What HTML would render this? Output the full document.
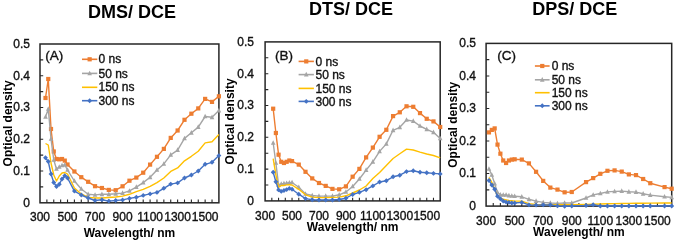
<!DOCTYPE html><html><head><meta charset="utf-8"><style>html,body{margin:0;padding:0;background:#fff;width:676px;height:242px;overflow:hidden}svg{display:block;will-change:transform}text{font-family:"Liberation Sans",sans-serif}.r{stroke:#111;stroke-width:0.35px}</style></head><body>
<svg width="676" height="242" viewBox="0 0 676 242">
<rect width="676" height="242" fill="#fff"/>
<rect x="40" y="44" width="178.9" height="158.8" fill="none" stroke="#262626" stroke-width="1.5"/>
<path d="M46.88 202.8V199.6M53.76 202.8V199.6M60.64 202.8V199.6M67.52 202.8V199.6M74.4 202.8V199.6M81.28 202.8V199.6M88.17 202.8V199.6M95.05 202.8V199.6M101.93 202.8V199.6M108.81 202.8V199.6M115.69 202.8V199.6M122.57 202.8V199.6M129.45 202.8V199.6M136.33 202.8V199.6M143.21 202.8V199.6M150.09 202.8V199.6M156.97 202.8V199.6M163.85 202.8V199.6M170.73 202.8V199.6M177.62 202.8V199.6M184.5 202.8V199.6M191.38 202.8V199.6M198.26 202.8V199.6M205.14 202.8V199.6M212.02 202.8V199.6M40 186.92H43.2M40 171.04H43.2M40 155.16H43.2M40 139.28H43.2M40 123.4H43.2M40 107.52H43.2M40 91.64H43.2M40 75.76H43.2M40 59.88H43.2" stroke="#262626" stroke-width="1.1" fill="none"/>
<polyline points="45.5,98 48.26,79 51.01,129 53.76,151.5 56.51,159 59.27,159.3 62.02,159 64.77,160.6 67.52,164.5 74.4,171.5 81.28,177.2 88.17,181.8 95.05,186.2 101.93,188 108.81,189.9 115.69,190.2 122.57,186.3 129.45,180.7 136.33,177.6 143.21,172.7 150.09,164.6 156.97,156.8 163.85,148.9 170.73,137.9 177.62,130.5 184.5,119.8 191.38,113.7 198.26,108.4 205.14,98.9 212.02,101.9 218.9,96.3" fill="none" stroke="#ED7D31" stroke-width="1.4" stroke-linejoin="round"/>
<rect x="43.4" y="95.9" width="4.2" height="4.2" fill="#ED7D31"/>
<rect x="46.16" y="76.9" width="4.2" height="4.2" fill="#ED7D31"/>
<rect x="48.91" y="126.9" width="4.2" height="4.2" fill="#ED7D31"/>
<rect x="51.66" y="149.4" width="4.2" height="4.2" fill="#ED7D31"/>
<rect x="54.41" y="156.9" width="4.2" height="4.2" fill="#ED7D31"/>
<rect x="57.17" y="157.2" width="4.2" height="4.2" fill="#ED7D31"/>
<rect x="59.92" y="156.9" width="4.2" height="4.2" fill="#ED7D31"/>
<rect x="62.67" y="158.5" width="4.2" height="4.2" fill="#ED7D31"/>
<rect x="65.42" y="162.4" width="4.2" height="4.2" fill="#ED7D31"/>
<rect x="72.3" y="169.4" width="4.2" height="4.2" fill="#ED7D31"/>
<rect x="79.18" y="175.1" width="4.2" height="4.2" fill="#ED7D31"/>
<rect x="86.07" y="179.7" width="4.2" height="4.2" fill="#ED7D31"/>
<rect x="92.95" y="184.1" width="4.2" height="4.2" fill="#ED7D31"/>
<rect x="99.83" y="185.9" width="4.2" height="4.2" fill="#ED7D31"/>
<rect x="106.71" y="187.8" width="4.2" height="4.2" fill="#ED7D31"/>
<rect x="113.59" y="188.1" width="4.2" height="4.2" fill="#ED7D31"/>
<rect x="120.47" y="184.2" width="4.2" height="4.2" fill="#ED7D31"/>
<rect x="127.35" y="178.6" width="4.2" height="4.2" fill="#ED7D31"/>
<rect x="134.23" y="175.5" width="4.2" height="4.2" fill="#ED7D31"/>
<rect x="141.11" y="170.6" width="4.2" height="4.2" fill="#ED7D31"/>
<rect x="147.99" y="162.5" width="4.2" height="4.2" fill="#ED7D31"/>
<rect x="154.87" y="154.7" width="4.2" height="4.2" fill="#ED7D31"/>
<rect x="161.75" y="146.8" width="4.2" height="4.2" fill="#ED7D31"/>
<rect x="168.63" y="135.8" width="4.2" height="4.2" fill="#ED7D31"/>
<rect x="175.52" y="128.4" width="4.2" height="4.2" fill="#ED7D31"/>
<rect x="182.4" y="117.7" width="4.2" height="4.2" fill="#ED7D31"/>
<rect x="189.28" y="111.6" width="4.2" height="4.2" fill="#ED7D31"/>
<rect x="196.16" y="106.3" width="4.2" height="4.2" fill="#ED7D31"/>
<rect x="203.04" y="96.8" width="4.2" height="4.2" fill="#ED7D31"/>
<rect x="209.92" y="99.8" width="4.2" height="4.2" fill="#ED7D31"/>
<rect x="216.8" y="94.2" width="4.2" height="4.2" fill="#ED7D31"/>
<polyline points="45.5,117 48.26,109 51.01,139 53.76,160 56.51,169 59.27,167 62.02,165.5 64.77,165 67.52,170 74.4,181 81.28,189 88.17,194.3 95.05,194.9 101.93,194.3 108.81,194.3 115.69,193.8 122.57,193.1 129.45,190.9 136.33,187.1 143.21,182.6 150.09,177.3 156.97,170 163.85,163.9 170.73,154.8 177.62,150.1 184.5,138.4 191.38,132.8 198.26,127.1 205.14,116.5 212.02,117.3 218.9,110.6" fill="none" stroke="#A5A5A5" stroke-width="1.4" stroke-linejoin="round"/>
<path d="M45.5 114.24L47.8 118.84L43.2 118.84Z" fill="#A5A5A5"/>
<path d="M48.26 106.24L50.56 110.84L45.96 110.84Z" fill="#A5A5A5"/>
<path d="M51.01 136.24L53.31 140.84L48.71 140.84Z" fill="#A5A5A5"/>
<path d="M53.76 157.24L56.06 161.84L51.46 161.84Z" fill="#A5A5A5"/>
<path d="M56.51 166.24L58.81 170.84L54.21 170.84Z" fill="#A5A5A5"/>
<path d="M59.27 164.24L61.57 168.84L56.97 168.84Z" fill="#A5A5A5"/>
<path d="M62.02 162.74L64.32 167.34L59.72 167.34Z" fill="#A5A5A5"/>
<path d="M64.77 162.24L67.07 166.84L62.47 166.84Z" fill="#A5A5A5"/>
<path d="M67.52 167.24L69.82 171.84L65.22 171.84Z" fill="#A5A5A5"/>
<path d="M74.4 178.24L76.7 182.84L72.1 182.84Z" fill="#A5A5A5"/>
<path d="M81.28 186.24L83.58 190.84L78.98 190.84Z" fill="#A5A5A5"/>
<path d="M88.17 191.54L90.47 196.14L85.87 196.14Z" fill="#A5A5A5"/>
<path d="M95.05 192.14L97.35 196.74L92.75 196.74Z" fill="#A5A5A5"/>
<path d="M101.93 191.54L104.23 196.14L99.63 196.14Z" fill="#A5A5A5"/>
<path d="M108.81 191.54L111.11 196.14L106.51 196.14Z" fill="#A5A5A5"/>
<path d="M115.69 191.04L117.99 195.64L113.39 195.64Z" fill="#A5A5A5"/>
<path d="M122.57 190.34L124.87 194.94L120.27 194.94Z" fill="#A5A5A5"/>
<path d="M129.45 188.14L131.75 192.74L127.15 192.74Z" fill="#A5A5A5"/>
<path d="M136.33 184.34L138.63 188.94L134.03 188.94Z" fill="#A5A5A5"/>
<path d="M143.21 179.84L145.51 184.44L140.91 184.44Z" fill="#A5A5A5"/>
<path d="M150.09 174.54L152.39 179.14L147.79 179.14Z" fill="#A5A5A5"/>
<path d="M156.97 167.24L159.27 171.84L154.67 171.84Z" fill="#A5A5A5"/>
<path d="M163.85 161.14L166.15 165.74L161.55 165.74Z" fill="#A5A5A5"/>
<path d="M170.73 152.04L173.03 156.64L168.43 156.64Z" fill="#A5A5A5"/>
<path d="M177.62 147.34L179.92 151.94L175.32 151.94Z" fill="#A5A5A5"/>
<path d="M184.5 135.64L186.8 140.24L182.2 140.24Z" fill="#A5A5A5"/>
<path d="M191.38 130.04L193.68 134.64L189.08 134.64Z" fill="#A5A5A5"/>
<path d="M198.26 124.34L200.56 128.94L195.96 128.94Z" fill="#A5A5A5"/>
<path d="M205.14 113.74L207.44 118.34L202.84 118.34Z" fill="#A5A5A5"/>
<path d="M212.02 114.54L214.32 119.14L209.72 119.14Z" fill="#A5A5A5"/>
<path d="M218.9 107.84L221.2 112.44L216.6 112.44Z" fill="#A5A5A5"/>
<polyline points="45.5,143.5 48.26,145 51.01,163 53.76,175 56.51,181 59.27,176 62.02,173 64.77,172.5 67.52,174 74.4,188 81.28,194 88.17,197.4 95.05,198 101.93,198 108.81,197.5 115.69,197 122.57,196.1 129.45,194.3 136.33,191.6 143.21,189.3 150.09,186.3 156.97,182.6 163.85,178 170.73,171.4 177.62,167.9 184.5,160.8 191.38,156.3 198.26,151.3 205.14,142.9 212.02,141.8 218.9,134.6" fill="none" stroke="#FFC000" stroke-width="1.4" stroke-linejoin="round"/>
<polyline points="45.5,157.8 48.26,161.5 51.01,174 53.76,182.5 56.51,186.5 59.27,184.3 62.02,179 64.77,175.8 67.52,178 74.4,191.1 81.28,195 88.17,198 95.05,200.5 101.93,199.8 108.81,201.1 115.69,200.5 122.57,199.9 129.45,198.4 136.33,197.3 143.21,195.4 150.09,193.9 156.97,192.4 163.85,188.3 170.73,184.1 177.62,182.9 184.5,178 191.38,175 198.26,171 205.14,164.3 212.02,162.3 218.9,155.6" fill="none" stroke="#4472C4" stroke-width="1.4" stroke-linejoin="round"/>
<path d="M45.5 155.35L47.95 157.8L45.5 160.25L43.05 157.8Z" fill="#4472C4"/>
<path d="M48.26 159.05L50.71 161.5L48.26 163.95L45.81 161.5Z" fill="#4472C4"/>
<path d="M51.01 171.55L53.46 174L51.01 176.45L48.56 174Z" fill="#4472C4"/>
<path d="M53.76 180.05L56.21 182.5L53.76 184.95L51.31 182.5Z" fill="#4472C4"/>
<path d="M56.51 184.05L58.96 186.5L56.51 188.95L54.06 186.5Z" fill="#4472C4"/>
<path d="M59.27 181.85L61.72 184.3L59.27 186.75L56.82 184.3Z" fill="#4472C4"/>
<path d="M62.02 176.55L64.47 179L62.02 181.45L59.57 179Z" fill="#4472C4"/>
<path d="M64.77 173.35L67.22 175.8L64.77 178.25L62.32 175.8Z" fill="#4472C4"/>
<path d="M67.52 175.55L69.97 178L67.52 180.45L65.07 178Z" fill="#4472C4"/>
<path d="M74.4 188.65L76.85 191.1L74.4 193.55L71.95 191.1Z" fill="#4472C4"/>
<path d="M81.28 192.55L83.73 195L81.28 197.45L78.83 195Z" fill="#4472C4"/>
<path d="M88.17 195.55L90.62 198L88.17 200.45L85.72 198Z" fill="#4472C4"/>
<path d="M95.05 198.05L97.5 200.5L95.05 202.95L92.6 200.5Z" fill="#4472C4"/>
<path d="M101.93 197.35L104.38 199.8L101.93 202.25L99.48 199.8Z" fill="#4472C4"/>
<path d="M108.81 198.65L111.26 201.1L108.81 203.55L106.36 201.1Z" fill="#4472C4"/>
<path d="M115.69 198.05L118.14 200.5L115.69 202.95L113.24 200.5Z" fill="#4472C4"/>
<path d="M122.57 197.45L125.02 199.9L122.57 202.35L120.12 199.9Z" fill="#4472C4"/>
<path d="M129.45 195.95L131.9 198.4L129.45 200.85L127 198.4Z" fill="#4472C4"/>
<path d="M136.33 194.85L138.78 197.3L136.33 199.75L133.88 197.3Z" fill="#4472C4"/>
<path d="M143.21 192.95L145.66 195.4L143.21 197.85L140.76 195.4Z" fill="#4472C4"/>
<path d="M150.09 191.45L152.54 193.9L150.09 196.35L147.64 193.9Z" fill="#4472C4"/>
<path d="M156.97 189.95L159.42 192.4L156.97 194.85L154.52 192.4Z" fill="#4472C4"/>
<path d="M163.85 185.85L166.3 188.3L163.85 190.75L161.4 188.3Z" fill="#4472C4"/>
<path d="M170.73 181.65L173.18 184.1L170.73 186.55L168.28 184.1Z" fill="#4472C4"/>
<path d="M177.62 180.45L180.07 182.9L177.62 185.35L175.17 182.9Z" fill="#4472C4"/>
<path d="M184.5 175.55L186.95 178L184.5 180.45L182.05 178Z" fill="#4472C4"/>
<path d="M191.38 172.55L193.83 175L191.38 177.45L188.93 175Z" fill="#4472C4"/>
<path d="M198.26 168.55L200.71 171L198.26 173.45L195.81 171Z" fill="#4472C4"/>
<path d="M205.14 161.85L207.59 164.3L205.14 166.75L202.69 164.3Z" fill="#4472C4"/>
<path d="M212.02 159.85L214.47 162.3L212.02 164.75L209.57 162.3Z" fill="#4472C4"/>
<path d="M218.9 153.15L221.35 155.6L218.9 158.05L216.45 155.6Z" fill="#4472C4"/>
<text x="40" y="221.3" font-size="12" text-anchor="middle" fill="#111" class="r">300</text>
<text x="67.52" y="221.3" font-size="12" text-anchor="middle" fill="#111" class="r">500</text>
<text x="95.05" y="221.3" font-size="12" text-anchor="middle" fill="#111" class="r">700</text>
<text x="122.57" y="221.3" font-size="12" text-anchor="middle" fill="#111" class="r">900</text>
<text x="150.09" y="221.3" font-size="12" text-anchor="middle" fill="#111" class="r">1100</text>
<text x="177.62" y="221.3" font-size="12" text-anchor="middle" fill="#111" class="r">1300</text>
<text x="205.14" y="221.3" font-size="12" text-anchor="middle" fill="#111" class="r">1500</text>
<text x="29.9" y="206.7" font-size="12" text-anchor="end" fill="#111" class="r">0</text>
<text x="29.9" y="174.94" font-size="12" text-anchor="end" fill="#111" class="r">0.1</text>
<text x="29.9" y="143.18" font-size="12" text-anchor="end" fill="#111" class="r">0.2</text>
<text x="29.9" y="111.42" font-size="12" text-anchor="end" fill="#111" class="r">0.3</text>
<text x="29.9" y="79.66" font-size="12" text-anchor="end" fill="#111" class="r">0.4</text>
<text x="29.9" y="47.9" font-size="12" text-anchor="end" fill="#111" class="r">0.5</text>
<text x="131.9" y="18" font-size="18" font-weight="bold" text-anchor="middle" fill="#000">DMS/ DCE</text>
<text x="129.45" y="237.1" font-size="12" font-weight="bold" text-anchor="middle" fill="#000">Wavelength/ nm</text>
<text x="0" y="0" font-size="12" font-weight="bold" text-anchor="middle" fill="#000" transform="translate(12.3 123.4) rotate(-90)">Optical density</text>
<text x="45.3" y="59.8" font-size="13.5" fill="#111" class="r">(A)</text>
<path d="M82 59.3H97.3" stroke="#ED7D31" stroke-width="1.6"/>
<rect x="87.55" y="57.2" width="4.2" height="4.2" fill="#ED7D31"/>
<text x="98.5" y="63.4" font-size="12" fill="#111" class="r">0 ns</text>
<path d="M82 73.4H97.3" stroke="#A5A5A5" stroke-width="1.6"/>
<path d="M89.65 70.64L91.95 75.24L87.35 75.24Z" fill="#A5A5A5"/>
<text x="98.5" y="77.5" font-size="12" fill="#111" class="r">50 ns</text>
<path d="M82 87.3H97.3" stroke="#FFC000" stroke-width="1.6"/>
<text x="98.5" y="91.4" font-size="12" fill="#111" class="r">150 ns</text>
<path d="M82 100.7H97.3" stroke="#4472C4" stroke-width="1.6"/>
<path d="M89.65 98.25L92.1 100.7L89.65 103.15L87.2 100.7Z" fill="#4472C4"/>
<text x="98.5" y="104.8" font-size="12" fill="#111" class="r">300 ns</text>
<rect x="265.1" y="41.9" width="175.1" height="159" fill="none" stroke="#262626" stroke-width="1.5"/>
<path d="M271.83 200.9V197.7M278.57 200.9V197.7M285.3 200.9V197.7M292.04 200.9V197.7M298.77 200.9V197.7M305.51 200.9V197.7M312.24 200.9V197.7M318.98 200.9V197.7M325.71 200.9V197.7M332.45 200.9V197.7M339.18 200.9V197.7M345.92 200.9V197.7M352.65 200.9V197.7M359.38 200.9V197.7M366.12 200.9V197.7M372.85 200.9V197.7M379.59 200.9V197.7M386.32 200.9V197.7M393.06 200.9V197.7M399.79 200.9V197.7M406.53 200.9V197.7M413.26 200.9V197.7M420 200.9V197.7M426.73 200.9V197.7M433.47 200.9V197.7M265.1 185H268.3M265.1 169.1H268.3M265.1 153.2H268.3M265.1 137.3H268.3M265.1 121.4H268.3M265.1 105.5H268.3M265.1 89.6H268.3M265.1 73.7H268.3M265.1 57.8H268.3" stroke="#262626" stroke-width="1.1" fill="none"/>
<polyline points="273.18,108.7 275.88,133 278.57,154.7 281.26,161.8 283.96,163 286.65,161.8 289.34,160.5 292.04,161.1 298.77,164.6 305.51,171.8 312.24,178.4 318.98,183 325.71,185.9 332.45,188.9 339.18,189.3 345.92,186.4 352.65,176.7 359.38,168.9 366.12,157.4 372.85,147.6 379.59,136.8 386.32,129.8 393.06,116.1 399.79,112.3 406.53,106.3 413.26,106.8 420,113.1 426.73,118.8 433.47,121.4 440.2,127" fill="none" stroke="#ED7D31" stroke-width="1.4" stroke-linejoin="round"/>
<rect x="271.08" y="106.6" width="4.2" height="4.2" fill="#ED7D31"/>
<rect x="273.78" y="130.9" width="4.2" height="4.2" fill="#ED7D31"/>
<rect x="276.47" y="152.6" width="4.2" height="4.2" fill="#ED7D31"/>
<rect x="279.16" y="159.7" width="4.2" height="4.2" fill="#ED7D31"/>
<rect x="281.86" y="160.9" width="4.2" height="4.2" fill="#ED7D31"/>
<rect x="284.55" y="159.7" width="4.2" height="4.2" fill="#ED7D31"/>
<rect x="287.24" y="158.4" width="4.2" height="4.2" fill="#ED7D31"/>
<rect x="289.94" y="159" width="4.2" height="4.2" fill="#ED7D31"/>
<rect x="296.67" y="162.5" width="4.2" height="4.2" fill="#ED7D31"/>
<rect x="303.41" y="169.7" width="4.2" height="4.2" fill="#ED7D31"/>
<rect x="310.14" y="176.3" width="4.2" height="4.2" fill="#ED7D31"/>
<rect x="316.88" y="180.9" width="4.2" height="4.2" fill="#ED7D31"/>
<rect x="323.61" y="183.8" width="4.2" height="4.2" fill="#ED7D31"/>
<rect x="330.35" y="186.8" width="4.2" height="4.2" fill="#ED7D31"/>
<rect x="337.08" y="187.2" width="4.2" height="4.2" fill="#ED7D31"/>
<rect x="343.82" y="184.3" width="4.2" height="4.2" fill="#ED7D31"/>
<rect x="350.55" y="174.6" width="4.2" height="4.2" fill="#ED7D31"/>
<rect x="357.28" y="166.8" width="4.2" height="4.2" fill="#ED7D31"/>
<rect x="364.02" y="155.3" width="4.2" height="4.2" fill="#ED7D31"/>
<rect x="370.75" y="145.5" width="4.2" height="4.2" fill="#ED7D31"/>
<rect x="377.49" y="134.7" width="4.2" height="4.2" fill="#ED7D31"/>
<rect x="384.22" y="127.7" width="4.2" height="4.2" fill="#ED7D31"/>
<rect x="390.96" y="114" width="4.2" height="4.2" fill="#ED7D31"/>
<rect x="397.69" y="110.2" width="4.2" height="4.2" fill="#ED7D31"/>
<rect x="404.43" y="104.2" width="4.2" height="4.2" fill="#ED7D31"/>
<rect x="411.16" y="104.7" width="4.2" height="4.2" fill="#ED7D31"/>
<rect x="417.9" y="111" width="4.2" height="4.2" fill="#ED7D31"/>
<rect x="424.63" y="116.7" width="4.2" height="4.2" fill="#ED7D31"/>
<rect x="431.37" y="119.3" width="4.2" height="4.2" fill="#ED7D31"/>
<rect x="438.1" y="124.9" width="4.2" height="4.2" fill="#ED7D31"/>
<polyline points="273.18,143 275.88,163 278.57,185 281.26,184 283.96,183.5 286.65,183.2 289.34,182.8 292.04,182.5 298.77,187.3 305.51,194 312.24,195.5 318.98,196.1 325.71,196.1 332.45,196.1 339.18,194.8 345.92,192 352.65,186.5 359.38,179 366.12,170.1 372.85,161.8 379.59,151.4 386.32,143.9 393.06,130.3 399.79,127.3 406.53,120 413.26,121.1 420,126 426.73,129.3 433.47,132.3 440.2,138.5" fill="none" stroke="#A5A5A5" stroke-width="1.4" stroke-linejoin="round"/>
<path d="M273.18 140.24L275.48 144.84L270.88 144.84Z" fill="#A5A5A5"/>
<path d="M275.88 160.24L278.18 164.84L273.58 164.84Z" fill="#A5A5A5"/>
<path d="M278.57 182.24L280.87 186.84L276.27 186.84Z" fill="#A5A5A5"/>
<path d="M281.26 181.24L283.56 185.84L278.96 185.84Z" fill="#A5A5A5"/>
<path d="M283.96 180.74L286.26 185.34L281.66 185.34Z" fill="#A5A5A5"/>
<path d="M286.65 180.44L288.95 185.04L284.35 185.04Z" fill="#A5A5A5"/>
<path d="M289.34 180.04L291.64 184.64L287.04 184.64Z" fill="#A5A5A5"/>
<path d="M292.04 179.74L294.34 184.34L289.74 184.34Z" fill="#A5A5A5"/>
<path d="M298.77 184.54L301.07 189.14L296.47 189.14Z" fill="#A5A5A5"/>
<path d="M305.51 191.24L307.81 195.84L303.21 195.84Z" fill="#A5A5A5"/>
<path d="M312.24 192.74L314.54 197.34L309.94 197.34Z" fill="#A5A5A5"/>
<path d="M318.98 193.34L321.28 197.94L316.68 197.94Z" fill="#A5A5A5"/>
<path d="M325.71 193.34L328.01 197.94L323.41 197.94Z" fill="#A5A5A5"/>
<path d="M332.45 193.34L334.75 197.94L330.15 197.94Z" fill="#A5A5A5"/>
<path d="M339.18 192.04L341.48 196.64L336.88 196.64Z" fill="#A5A5A5"/>
<path d="M345.92 189.24L348.22 193.84L343.62 193.84Z" fill="#A5A5A5"/>
<path d="M352.65 183.74L354.95 188.34L350.35 188.34Z" fill="#A5A5A5"/>
<path d="M359.38 176.24L361.68 180.84L357.08 180.84Z" fill="#A5A5A5"/>
<path d="M366.12 167.34L368.42 171.94L363.82 171.94Z" fill="#A5A5A5"/>
<path d="M372.85 159.04L375.15 163.64L370.55 163.64Z" fill="#A5A5A5"/>
<path d="M379.59 148.64L381.89 153.24L377.29 153.24Z" fill="#A5A5A5"/>
<path d="M386.32 141.14L388.62 145.74L384.02 145.74Z" fill="#A5A5A5"/>
<path d="M393.06 127.54L395.36 132.14L390.76 132.14Z" fill="#A5A5A5"/>
<path d="M399.79 124.54L402.09 129.14L397.49 129.14Z" fill="#A5A5A5"/>
<path d="M406.53 117.24L408.83 121.84L404.23 121.84Z" fill="#A5A5A5"/>
<path d="M413.26 118.34L415.56 122.94L410.96 122.94Z" fill="#A5A5A5"/>
<path d="M420 123.24L422.3 127.84L417.7 127.84Z" fill="#A5A5A5"/>
<path d="M426.73 126.54L429.03 131.14L424.43 131.14Z" fill="#A5A5A5"/>
<path d="M433.47 129.54L435.77 134.14L431.17 134.14Z" fill="#A5A5A5"/>
<path d="M440.2 135.74L442.5 140.34L437.9 140.34Z" fill="#A5A5A5"/>
<polyline points="273.18,158.7 275.88,174.8 278.57,187.4 281.26,185.5 283.96,185.5 286.65,184.9 289.34,184.7 292.04,185 298.77,189.3 305.51,194.8 312.24,197.1 318.98,197.6 325.71,197.6 332.45,197.4 339.18,197.1 345.92,195.8 352.65,193 359.38,190 366.12,186 372.85,178.5 379.59,172.5 386.32,165.5 393.06,158.5 399.79,153.7 406.53,149.1 413.26,150 420,152.1 426.73,154 433.47,155.5 440.2,157.9" fill="none" stroke="#FFC000" stroke-width="1.4" stroke-linejoin="round"/>
<polyline points="273.18,172.2 275.88,181.8 278.57,189.9 281.26,191.4 283.96,190.5 286.65,189.6 289.34,188.4 292.04,189.3 298.77,194.2 305.51,198.6 312.24,199.8 318.98,200 325.71,200 332.45,200 339.18,199.5 345.92,198.2 352.65,194.5 359.38,192.3 366.12,189.7 372.85,185.9 379.59,182 386.32,180.7 393.06,176.8 399.79,175.2 406.53,171.6 413.26,170.8 420,172.3 426.73,172.8 433.47,173.4 440.2,173.9" fill="none" stroke="#4472C4" stroke-width="1.4" stroke-linejoin="round"/>
<path d="M273.18 169.75L275.63 172.2L273.18 174.65L270.73 172.2Z" fill="#4472C4"/>
<path d="M275.88 179.35L278.33 181.8L275.88 184.25L273.43 181.8Z" fill="#4472C4"/>
<path d="M278.57 187.45L281.02 189.9L278.57 192.35L276.12 189.9Z" fill="#4472C4"/>
<path d="M281.26 188.95L283.71 191.4L281.26 193.85L278.81 191.4Z" fill="#4472C4"/>
<path d="M283.96 188.05L286.41 190.5L283.96 192.95L281.51 190.5Z" fill="#4472C4"/>
<path d="M286.65 187.15L289.1 189.6L286.65 192.05L284.2 189.6Z" fill="#4472C4"/>
<path d="M289.34 185.95L291.79 188.4L289.34 190.85L286.89 188.4Z" fill="#4472C4"/>
<path d="M292.04 186.85L294.49 189.3L292.04 191.75L289.59 189.3Z" fill="#4472C4"/>
<path d="M298.77 191.75L301.22 194.2L298.77 196.65L296.32 194.2Z" fill="#4472C4"/>
<path d="M305.51 196.15L307.96 198.6L305.51 201.05L303.06 198.6Z" fill="#4472C4"/>
<path d="M312.24 197.35L314.69 199.8L312.24 202.25L309.79 199.8Z" fill="#4472C4"/>
<path d="M318.98 197.55L321.43 200L318.98 202.45L316.53 200Z" fill="#4472C4"/>
<path d="M325.71 197.55L328.16 200L325.71 202.45L323.26 200Z" fill="#4472C4"/>
<path d="M332.45 197.55L334.9 200L332.45 202.45L330 200Z" fill="#4472C4"/>
<path d="M339.18 197.05L341.63 199.5L339.18 201.95L336.73 199.5Z" fill="#4472C4"/>
<path d="M345.92 195.75L348.37 198.2L345.92 200.65L343.47 198.2Z" fill="#4472C4"/>
<path d="M352.65 192.05L355.1 194.5L352.65 196.95L350.2 194.5Z" fill="#4472C4"/>
<path d="M359.38 189.85L361.83 192.3L359.38 194.75L356.93 192.3Z" fill="#4472C4"/>
<path d="M366.12 187.25L368.57 189.7L366.12 192.15L363.67 189.7Z" fill="#4472C4"/>
<path d="M372.85 183.45L375.3 185.9L372.85 188.35L370.4 185.9Z" fill="#4472C4"/>
<path d="M379.59 179.55L382.04 182L379.59 184.45L377.14 182Z" fill="#4472C4"/>
<path d="M386.32 178.25L388.77 180.7L386.32 183.15L383.87 180.7Z" fill="#4472C4"/>
<path d="M393.06 174.35L395.51 176.8L393.06 179.25L390.61 176.8Z" fill="#4472C4"/>
<path d="M399.79 172.75L402.24 175.2L399.79 177.65L397.34 175.2Z" fill="#4472C4"/>
<path d="M406.53 169.15L408.98 171.6L406.53 174.05L404.08 171.6Z" fill="#4472C4"/>
<path d="M413.26 168.35L415.71 170.8L413.26 173.25L410.81 170.8Z" fill="#4472C4"/>
<path d="M420 169.85L422.45 172.3L420 174.75L417.55 172.3Z" fill="#4472C4"/>
<path d="M426.73 170.35L429.18 172.8L426.73 175.25L424.28 172.8Z" fill="#4472C4"/>
<path d="M433.47 170.95L435.92 173.4L433.47 175.85L431.02 173.4Z" fill="#4472C4"/>
<path d="M440.2 171.45L442.65 173.9L440.2 176.35L437.75 173.9Z" fill="#4472C4"/>
<text x="265.1" y="219.7" font-size="12" text-anchor="middle" fill="#111" class="r">300</text>
<text x="292.04" y="219.7" font-size="12" text-anchor="middle" fill="#111" class="r">500</text>
<text x="318.98" y="219.7" font-size="12" text-anchor="middle" fill="#111" class="r">700</text>
<text x="345.92" y="219.7" font-size="12" text-anchor="middle" fill="#111" class="r">900</text>
<text x="372.85" y="219.7" font-size="12" text-anchor="middle" fill="#111" class="r">1100</text>
<text x="399.79" y="219.7" font-size="12" text-anchor="middle" fill="#111" class="r">1300</text>
<text x="426.73" y="219.7" font-size="12" text-anchor="middle" fill="#111" class="r">1500</text>
<text x="254" y="204.8" font-size="12" text-anchor="end" fill="#111" class="r">0</text>
<text x="254" y="173" font-size="12" text-anchor="end" fill="#111" class="r">0.1</text>
<text x="254" y="141.2" font-size="12" text-anchor="end" fill="#111" class="r">0.2</text>
<text x="254" y="109.4" font-size="12" text-anchor="end" fill="#111" class="r">0.3</text>
<text x="254" y="77.6" font-size="12" text-anchor="end" fill="#111" class="r">0.4</text>
<text x="254" y="45.8" font-size="12" text-anchor="end" fill="#111" class="r">0.5</text>
<text x="351" y="15.4" font-size="18" font-weight="bold" text-anchor="middle" fill="#000">DTS/ DCE</text>
<text x="352.65" y="230.6" font-size="12" font-weight="bold" text-anchor="middle" fill="#000">Wavelength/ nm</text>
<text x="0" y="0" font-size="12" font-weight="bold" text-anchor="middle" fill="#000" transform="translate(234.3 121.4) rotate(-90)">Optical density</text>
<text x="275" y="60.3" font-size="13.5" fill="#111" class="r">(B)</text>
<path d="M298.6 61.4H313.9" stroke="#ED7D31" stroke-width="1.6"/>
<rect x="304.15" y="59.3" width="4.2" height="4.2" fill="#ED7D31"/>
<text x="315.5" y="65.5" font-size="12" fill="#111" class="r">0 ns</text>
<path d="M298.6 74.6H313.9" stroke="#A5A5A5" stroke-width="1.6"/>
<path d="M306.25 71.84L308.55 76.44L303.95 76.44Z" fill="#A5A5A5"/>
<text x="315.5" y="78.7" font-size="12" fill="#111" class="r">50 ns</text>
<path d="M298.6 88.4H313.9" stroke="#FFC000" stroke-width="1.6"/>
<text x="315.5" y="92.5" font-size="12" fill="#111" class="r">150 ns</text>
<path d="M298.6 101.4H313.9" stroke="#4472C4" stroke-width="1.6"/>
<path d="M306.25 98.95L308.7 101.4L306.25 103.85L303.8 101.4Z" fill="#4472C4"/>
<text x="315.5" y="105.5" font-size="12" fill="#111" class="r">300 ns</text>
<rect x="486.1" y="43.4" width="185.6" height="162.7" fill="none" stroke="#262626" stroke-width="1.5"/>
<path d="M493.24 206.1V202.9M500.38 206.1V202.9M507.52 206.1V202.9M514.65 206.1V202.9M521.79 206.1V202.9M528.93 206.1V202.9M536.07 206.1V202.9M543.21 206.1V202.9M550.35 206.1V202.9M557.48 206.1V202.9M564.62 206.1V202.9M571.76 206.1V202.9M578.9 206.1V202.9M586.04 206.1V202.9M593.18 206.1V202.9M600.32 206.1V202.9M607.45 206.1V202.9M614.59 206.1V202.9M621.73 206.1V202.9M628.87 206.1V202.9M636.01 206.1V202.9M643.15 206.1V202.9M650.28 206.1V202.9M657.42 206.1V202.9M664.56 206.1V202.9M486.1 189.83H489.3M486.1 173.56H489.3M486.1 157.29H489.3M486.1 141.02H489.3M486.1 124.75H489.3M486.1 108.48H489.3M486.1 92.21H489.3M486.1 75.94H489.3M486.1 59.67H489.3" stroke="#262626" stroke-width="1.1" fill="none"/>
<polyline points="488.96,132.4 491.81,129.9 494.67,128.4 497.52,144.6 500.38,153.7 503.23,160.5 506.09,163 508.94,160.5 511.8,159.6 514.65,159.3 521.79,159.6 528.93,163.4 536.07,171.8 543.21,180.9 550.35,187.6 557.48,189.6 564.62,192.3 571.76,192 586.04,182.1 593.18,178.1 600.32,173.8 607.45,170.8 614.59,170.4 621.73,171.6 628.87,174.4 636.01,175.1 643.15,179 650.28,183.2 664.56,187.1 671.7,188.7" fill="none" stroke="#ED7D31" stroke-width="1.4" stroke-linejoin="round"/>
<rect x="486.86" y="130.3" width="4.2" height="4.2" fill="#ED7D31"/>
<rect x="489.71" y="127.8" width="4.2" height="4.2" fill="#ED7D31"/>
<rect x="492.57" y="126.3" width="4.2" height="4.2" fill="#ED7D31"/>
<rect x="495.42" y="142.5" width="4.2" height="4.2" fill="#ED7D31"/>
<rect x="498.28" y="151.6" width="4.2" height="4.2" fill="#ED7D31"/>
<rect x="501.13" y="158.4" width="4.2" height="4.2" fill="#ED7D31"/>
<rect x="503.99" y="160.9" width="4.2" height="4.2" fill="#ED7D31"/>
<rect x="506.84" y="158.4" width="4.2" height="4.2" fill="#ED7D31"/>
<rect x="509.7" y="157.5" width="4.2" height="4.2" fill="#ED7D31"/>
<rect x="512.55" y="157.2" width="4.2" height="4.2" fill="#ED7D31"/>
<rect x="519.69" y="157.5" width="4.2" height="4.2" fill="#ED7D31"/>
<rect x="526.83" y="161.3" width="4.2" height="4.2" fill="#ED7D31"/>
<rect x="533.97" y="169.7" width="4.2" height="4.2" fill="#ED7D31"/>
<rect x="541.11" y="178.8" width="4.2" height="4.2" fill="#ED7D31"/>
<rect x="548.25" y="185.5" width="4.2" height="4.2" fill="#ED7D31"/>
<rect x="555.38" y="187.5" width="4.2" height="4.2" fill="#ED7D31"/>
<rect x="562.52" y="190.2" width="4.2" height="4.2" fill="#ED7D31"/>
<rect x="569.66" y="189.9" width="4.2" height="4.2" fill="#ED7D31"/>
<rect x="583.94" y="180" width="4.2" height="4.2" fill="#ED7D31"/>
<rect x="591.08" y="176" width="4.2" height="4.2" fill="#ED7D31"/>
<rect x="598.22" y="171.7" width="4.2" height="4.2" fill="#ED7D31"/>
<rect x="605.35" y="168.7" width="4.2" height="4.2" fill="#ED7D31"/>
<rect x="612.49" y="168.3" width="4.2" height="4.2" fill="#ED7D31"/>
<rect x="619.63" y="169.5" width="4.2" height="4.2" fill="#ED7D31"/>
<rect x="626.77" y="172.3" width="4.2" height="4.2" fill="#ED7D31"/>
<rect x="633.91" y="173" width="4.2" height="4.2" fill="#ED7D31"/>
<rect x="641.05" y="176.9" width="4.2" height="4.2" fill="#ED7D31"/>
<rect x="648.18" y="181.1" width="4.2" height="4.2" fill="#ED7D31"/>
<rect x="662.46" y="185" width="4.2" height="4.2" fill="#ED7D31"/>
<rect x="669.6" y="186.6" width="4.2" height="4.2" fill="#ED7D31"/>
<polyline points="488.96,169 491.81,175 494.67,183.6 497.52,192.5 500.38,194.7 503.23,194.9 506.09,194.9 508.94,195.6 511.8,195.9 514.65,196.2 521.79,196.8 528.93,199.3 536.07,201.1 543.21,202.4 550.35,203 557.48,203.4 564.62,203 571.76,203 586.04,198 593.18,194.9 600.32,193.5 607.45,191.9 614.59,191.4 621.73,191.1 628.87,191.8 636.01,192.1 643.15,193.8 650.28,195.1 664.56,196.7 671.7,197.4" fill="none" stroke="#A5A5A5" stroke-width="1.4" stroke-linejoin="round"/>
<path d="M488.96 166.24L491.26 170.84L486.66 170.84Z" fill="#A5A5A5"/>
<path d="M491.81 172.24L494.11 176.84L489.51 176.84Z" fill="#A5A5A5"/>
<path d="M494.67 180.84L496.97 185.44L492.37 185.44Z" fill="#A5A5A5"/>
<path d="M497.52 189.74L499.82 194.34L495.22 194.34Z" fill="#A5A5A5"/>
<path d="M500.38 191.94L502.68 196.54L498.08 196.54Z" fill="#A5A5A5"/>
<path d="M503.23 192.14L505.53 196.74L500.93 196.74Z" fill="#A5A5A5"/>
<path d="M506.09 192.14L508.39 196.74L503.79 196.74Z" fill="#A5A5A5"/>
<path d="M508.94 192.84L511.24 197.44L506.64 197.44Z" fill="#A5A5A5"/>
<path d="M511.8 193.14L514.1 197.74L509.5 197.74Z" fill="#A5A5A5"/>
<path d="M514.65 193.44L516.95 198.04L512.35 198.04Z" fill="#A5A5A5"/>
<path d="M521.79 194.04L524.09 198.64L519.49 198.64Z" fill="#A5A5A5"/>
<path d="M528.93 196.54L531.23 201.14L526.63 201.14Z" fill="#A5A5A5"/>
<path d="M536.07 198.34L538.37 202.94L533.77 202.94Z" fill="#A5A5A5"/>
<path d="M543.21 199.64L545.51 204.24L540.91 204.24Z" fill="#A5A5A5"/>
<path d="M550.35 200.24L552.65 204.84L548.05 204.84Z" fill="#A5A5A5"/>
<path d="M557.48 200.64L559.78 205.24L555.18 205.24Z" fill="#A5A5A5"/>
<path d="M564.62 200.24L566.92 204.84L562.32 204.84Z" fill="#A5A5A5"/>
<path d="M571.76 200.24L574.06 204.84L569.46 204.84Z" fill="#A5A5A5"/>
<path d="M586.04 195.24L588.34 199.84L583.74 199.84Z" fill="#A5A5A5"/>
<path d="M593.18 192.14L595.48 196.74L590.88 196.74Z" fill="#A5A5A5"/>
<path d="M600.32 190.74L602.62 195.34L598.02 195.34Z" fill="#A5A5A5"/>
<path d="M607.45 189.14L609.75 193.74L605.15 193.74Z" fill="#A5A5A5"/>
<path d="M614.59 188.64L616.89 193.24L612.29 193.24Z" fill="#A5A5A5"/>
<path d="M621.73 188.34L624.03 192.94L619.43 192.94Z" fill="#A5A5A5"/>
<path d="M628.87 189.04L631.17 193.64L626.57 193.64Z" fill="#A5A5A5"/>
<path d="M636.01 189.34L638.31 193.94L633.71 193.94Z" fill="#A5A5A5"/>
<path d="M643.15 191.04L645.45 195.64L640.85 195.64Z" fill="#A5A5A5"/>
<path d="M650.28 192.34L652.58 196.94L647.98 196.94Z" fill="#A5A5A5"/>
<path d="M664.56 193.94L666.86 198.54L662.26 198.54Z" fill="#A5A5A5"/>
<path d="M671.7 194.64L674 199.24L669.4 199.24Z" fill="#A5A5A5"/>
<polyline points="488.96,177.4 491.81,182.4 494.67,189 497.52,196.2 500.38,198 503.23,199.3 506.09,199.9 508.94,200.5 511.8,200.8 514.65,201.1 521.79,201.1 528.93,203.6 536.07,204.5 543.21,204.6 550.35,204.6 557.48,204.6 564.62,204.6 571.76,204.6 586.04,204.4 593.18,204.2 600.32,204 607.45,203.8 614.59,203.6 621.73,203.5 628.87,203.4 636.01,203.3 643.15,203.2 650.28,203.1 664.56,203 671.7,203" fill="none" stroke="#FFC000" stroke-width="1.4" stroke-linejoin="round"/>
<polyline points="488.96,180.5 491.81,185 494.67,189.3 497.52,196.2 500.38,198.7 503.23,201.1 506.09,202.1 508.94,202.4 511.8,203 514.65,203 521.79,202.4 528.93,204.9 536.07,205.1 543.21,204.9 550.35,205 557.48,205.9 564.62,206.3 571.76,206 586.04,205.5 593.18,204.8 600.32,206 607.45,206 614.59,206 621.73,206 628.87,206 636.01,206 643.15,206 650.28,206 664.56,206 671.7,206" fill="none" stroke="#4472C4" stroke-width="1.4" stroke-linejoin="round"/>
<path d="M488.96 178.05L491.41 180.5L488.96 182.95L486.51 180.5Z" fill="#4472C4"/>
<path d="M491.81 182.55L494.26 185L491.81 187.45L489.36 185Z" fill="#4472C4"/>
<path d="M494.67 186.85L497.12 189.3L494.67 191.75L492.22 189.3Z" fill="#4472C4"/>
<path d="M497.52 193.75L499.97 196.2L497.52 198.65L495.07 196.2Z" fill="#4472C4"/>
<path d="M500.38 196.25L502.83 198.7L500.38 201.15L497.93 198.7Z" fill="#4472C4"/>
<path d="M503.23 198.65L505.68 201.1L503.23 203.55L500.78 201.1Z" fill="#4472C4"/>
<path d="M506.09 199.65L508.54 202.1L506.09 204.55L503.64 202.1Z" fill="#4472C4"/>
<path d="M508.94 199.95L511.39 202.4L508.94 204.85L506.49 202.4Z" fill="#4472C4"/>
<path d="M511.8 200.55L514.25 203L511.8 205.45L509.35 203Z" fill="#4472C4"/>
<path d="M514.65 200.55L517.1 203L514.65 205.45L512.2 203Z" fill="#4472C4"/>
<path d="M521.79 199.95L524.24 202.4L521.79 204.85L519.34 202.4Z" fill="#4472C4"/>
<path d="M528.93 202.45L531.38 204.9L528.93 207.35L526.48 204.9Z" fill="#4472C4"/>
<path d="M536.07 202.65L538.52 205.1L536.07 207.55L533.62 205.1Z" fill="#4472C4"/>
<path d="M543.21 202.45L545.66 204.9L543.21 207.35L540.76 204.9Z" fill="#4472C4"/>
<path d="M550.35 202.55L552.8 205L550.35 207.45L547.9 205Z" fill="#4472C4"/>
<path d="M557.48 203.45L559.93 205.9L557.48 208.35L555.03 205.9Z" fill="#4472C4"/>
<path d="M564.62 203.85L567.07 206.3L564.62 208.75L562.17 206.3Z" fill="#4472C4"/>
<path d="M571.76 203.55L574.21 206L571.76 208.45L569.31 206Z" fill="#4472C4"/>
<path d="M586.04 203.05L588.49 205.5L586.04 207.95L583.59 205.5Z" fill="#4472C4"/>
<path d="M593.18 202.35L595.63 204.8L593.18 207.25L590.73 204.8Z" fill="#4472C4"/>
<path d="M600.32 203.55L602.77 206L600.32 208.45L597.87 206Z" fill="#4472C4"/>
<path d="M607.45 203.55L609.9 206L607.45 208.45L605 206Z" fill="#4472C4"/>
<path d="M614.59 203.55L617.04 206L614.59 208.45L612.14 206Z" fill="#4472C4"/>
<path d="M621.73 203.55L624.18 206L621.73 208.45L619.28 206Z" fill="#4472C4"/>
<path d="M628.87 203.55L631.32 206L628.87 208.45L626.42 206Z" fill="#4472C4"/>
<path d="M636.01 203.55L638.46 206L636.01 208.45L633.56 206Z" fill="#4472C4"/>
<path d="M643.15 203.55L645.6 206L643.15 208.45L640.7 206Z" fill="#4472C4"/>
<path d="M650.28 203.55L652.73 206L650.28 208.45L647.83 206Z" fill="#4472C4"/>
<path d="M664.56 203.55L667.01 206L664.56 208.45L662.11 206Z" fill="#4472C4"/>
<path d="M671.7 203.55L674.15 206L671.7 208.45L669.25 206Z" fill="#4472C4"/>
<text x="486.1" y="224.8" font-size="12" text-anchor="middle" fill="#111" class="r">300</text>
<text x="514.65" y="224.8" font-size="12" text-anchor="middle" fill="#111" class="r">500</text>
<text x="543.21" y="224.8" font-size="12" text-anchor="middle" fill="#111" class="r">700</text>
<text x="571.76" y="224.8" font-size="12" text-anchor="middle" fill="#111" class="r">900</text>
<text x="600.32" y="224.8" font-size="12" text-anchor="middle" fill="#111" class="r">1100</text>
<text x="628.87" y="224.8" font-size="12" text-anchor="middle" fill="#111" class="r">1300</text>
<text x="657.42" y="224.8" font-size="12" text-anchor="middle" fill="#111" class="r">1500</text>
<text x="475.9" y="210" font-size="12" text-anchor="end" fill="#111" class="r">0</text>
<text x="475.9" y="177.46" font-size="12" text-anchor="end" fill="#111" class="r">0.1</text>
<text x="475.9" y="144.92" font-size="12" text-anchor="end" fill="#111" class="r">0.2</text>
<text x="475.9" y="112.38" font-size="12" text-anchor="end" fill="#111" class="r">0.3</text>
<text x="475.9" y="79.84" font-size="12" text-anchor="end" fill="#111" class="r">0.4</text>
<text x="475.9" y="47.3" font-size="12" text-anchor="end" fill="#111" class="r">0.5</text>
<text x="574.8" y="15.4" font-size="18" font-weight="bold" text-anchor="middle" fill="#000">DPS/ DCE</text>
<text x="578.9" y="235.7" font-size="12" font-weight="bold" text-anchor="middle" fill="#000">Wavelength/ nm</text>
<text x="0" y="0" font-size="12" font-weight="bold" text-anchor="middle" fill="#000" transform="translate(456.8 124.75) rotate(-90)">Optical density</text>
<text x="497.2" y="59.5" font-size="13.5" fill="#111" class="r">(C)</text>
<path d="M534.9 66H549.6" stroke="#ED7D31" stroke-width="1.6"/>
<rect x="540.15" y="63.9" width="4.2" height="4.2" fill="#ED7D31"/>
<text x="551.7" y="70.1" font-size="12" fill="#111" class="r">0 ns</text>
<path d="M534.9 79.8H549.6" stroke="#A5A5A5" stroke-width="1.6"/>
<path d="M542.25 77.04L544.55 81.64L539.95 81.64Z" fill="#A5A5A5"/>
<text x="551.7" y="83.9" font-size="12" fill="#111" class="r">50 ns</text>
<path d="M534.9 92.7H549.6" stroke="#FFC000" stroke-width="1.6"/>
<text x="551.7" y="96.8" font-size="12" fill="#111" class="r">150 ns</text>
<path d="M534.9 105.8H549.6" stroke="#4472C4" stroke-width="1.6"/>
<path d="M542.25 103.35L544.7 105.8L542.25 108.25L539.8 105.8Z" fill="#4472C4"/>
<text x="551.7" y="109.9" font-size="12" fill="#111" class="r">300 ns</text>
</svg></body></html>
